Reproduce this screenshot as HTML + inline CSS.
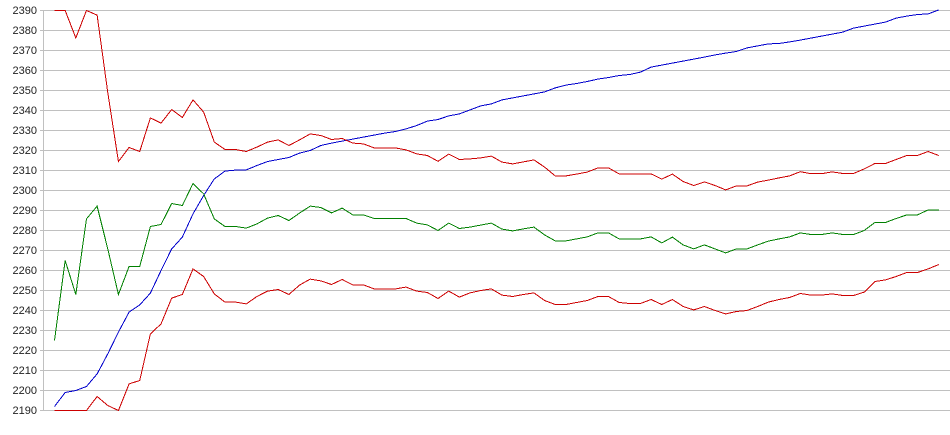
<!DOCTYPE html>
<html>
<head>
<meta charset="utf-8">
<style>
  html, body { margin: 0; padding: 0; background: #ffffff; }
  body { width: 950px; height: 435px; overflow: hidden; }
  svg { display: block; }
  text { font-family: "Liberation Sans", Arial, sans-serif; font-size: 11px; fill: #222; }
</style>
</head>
<body>
<svg width="950" height="435" viewBox="0 0 950 435" xmlns="http://www.w3.org/2000/svg">
  <rect x="0" y="0" width="950" height="435" fill="#ffffff"/>
  <g stroke="#c0c0c0" stroke-width="1" shape-rendering="crispEdges">
    <line x1="40" y1="10.5" x2="950" y2="10.5"/>
    <line x1="40" y1="30.5" x2="950" y2="30.5"/>
    <line x1="40" y1="50.5" x2="950" y2="50.5"/>
    <line x1="40" y1="70.5" x2="950" y2="70.5"/>
    <line x1="40" y1="90.5" x2="950" y2="90.5"/>
    <line x1="40" y1="110.5" x2="950" y2="110.5"/>
    <line x1="40" y1="130.5" x2="950" y2="130.5"/>
    <line x1="40" y1="150.5" x2="950" y2="150.5"/>
    <line x1="40" y1="170.5" x2="950" y2="170.5"/>
    <line x1="40" y1="190.5" x2="950" y2="190.5"/>
    <line x1="40" y1="210.5" x2="950" y2="210.5"/>
    <line x1="40" y1="230.5" x2="950" y2="230.5"/>
    <line x1="40" y1="250.5" x2="950" y2="250.5"/>
    <line x1="40" y1="270.5" x2="950" y2="270.5"/>
    <line x1="40" y1="290.5" x2="950" y2="290.5"/>
    <line x1="40" y1="310.5" x2="950" y2="310.5"/>
    <line x1="40" y1="330.5" x2="950" y2="330.5"/>
    <line x1="40" y1="350.5" x2="950" y2="350.5"/>
    <line x1="40" y1="370.5" x2="950" y2="370.5"/>
    <line x1="40" y1="390.5" x2="950" y2="390.5"/>
    <line x1="40" y1="410.5" x2="950" y2="410.5"/>
    <line x1="43.5" y1="10" x2="43.5" y2="411"/>
  </g>
  <g text-anchor="end">
    <text x="37" y="14">2390</text>
    <text x="37" y="34">2380</text>
    <text x="37" y="54">2370</text>
    <text x="37" y="74">2360</text>
    <text x="37" y="94">2350</text>
    <text x="37" y="114">2340</text>
    <text x="37" y="134">2330</text>
    <text x="37" y="154">2320</text>
    <text x="37" y="174">2310</text>
    <text x="37" y="194">2300</text>
    <text x="37" y="214">2290</text>
    <text x="37" y="234">2280</text>
    <text x="37" y="254">2270</text>
    <text x="37" y="274">2260</text>
    <text x="37" y="294">2250</text>
    <text x="37" y="314">2240</text>
    <text x="37" y="334">2230</text>
    <text x="37" y="354">2220</text>
    <text x="37" y="374">2210</text>
    <text x="37" y="394">2200</text>
    <text x="37" y="414">2190</text>
  </g>
  <g transform="matrix(10.654 0 0 -2 54.5 4790.5)" fill="none" stroke-width="1" shape-rendering="crispEdges">
    <polyline vector-effect="non-scaling-stroke" stroke="#0000cc" points="0,2192 1,2199 2,2200 3,2202 4,2208.3 5,2218.3 6,2229.2 7,2239.2 8,2242.8 9,2248.7 10,2260 11,2270.8 12,2276.7 13,2288.3 14,2297.5 15,2305.8 16,2309.7 17,2310.2 18,2310.3 19,2312.5 20,2314.5 21,2315.5 22,2316.5 23,2318.7 24,2320 25,2322.5 26,2323.7 27,2324.7 28,2325.7 29,2326.7 30,2327.7 31,2328.7 32,2329.5 33,2330.8 34,2332.5 35,2334.7 36,2335.5 37,2337.3 38,2338.3 39,2340.3 40,2342.3 41,2343.3 42,2345.3 43,2346.3 44,2347.3 45,2348.3 46,2349.3 47,2351.3 48,2352.7 49,2353.5 50,2354.5 51,2355.7 52,2356.5 53,2357.5 54,2358 55,2359.2 56,2361.7 57,2362.7 58,2363.7 59,2364.7 60,2365.7 61,2366.7 62,2367.8 63,2368.7 64,2369.5 65,2371.3 66,2372.3 67,2373.3 68,2373.5 69,2374.3 70,2375.2 71,2376.2 72,2377.2 73,2378.2 74,2379.2 75,2381.2 76,2382.2 77,2383.2 78,2384.2 79,2386.2 80,2387.2 81,2388 82,2388.3 83,2390.3"/>
    <polyline vector-effect="non-scaling-stroke" stroke="#008000" points="0,2225 1,2265 2,2248 3,2285.8 4,2292.2 5,2270.8 6,2248 7,2262 8,2262 9,2282 10,2283 11,2293.5 12,2292.5 13,2303.5 14,2298.3 15,2285.8 16,2282 17,2282 18,2281.2 19,2283.3 20,2286.2 21,2287.5 22,2285 23,2288.7 24,2292.2 25,2291.5 26,2288.8 27,2291.2 28,2287.8 29,2287.8 30,2286 31,2286 32,2286 33,2286 34,2283.7 35,2282.8 36,2280 37,2283.7 38,2281 39,2281.7 40,2282.7 41,2283.7 42,2280.7 43,2279.8 44,2280.8 45,2281.7 46,2277.8 47,2274.8 48,2274.8 49,2275.8 50,2276.8 51,2278.8 52,2278.8 53,2275.8 54,2275.8 55,2275.8 56,2276.8 57,2273.8 58,2276.7 59,2272.8 60,2270.8 61,2272.8 62,2270.8 63,2268.8 64,2270.8 65,2270.8 66,2272.8 67,2274.7 68,2275.8 69,2276.8 70,2278.8 71,2278 72,2278 73,2278.8 74,2278 75,2278 76,2280 77,2284 78,2284 79,2286 80,2287.8 81,2287.8 82,2290.3 83,2290.3"/>
    <polyline vector-effect="non-scaling-stroke" stroke="#cc0000" points="0,2390 1,2390 2,2376.3 3,2390 4,2387.7 5,2349 6,2314.5 7,2321.5 8,2319.5 9,2336.3 10,2333.7 11,2340.5 12,2336.5 13,2345.3 14,2339.2 15,2324.2 16,2320.5 17,2320.5 18,2319.5 19,2321.7 20,2324.2 21,2325.3 22,2322.5 23,2325.3 24,2328.3 25,2327.5 26,2325.5 27,2326 28,2323.7 29,2323.3 30,2321.3 31,2321.3 32,2321.3 33,2320.3 34,2318.3 35,2317.5 36,2314.6 37,2318.2 38,2315.5 39,2315.8 40,2316.3 41,2317.2 42,2314.2 43,2313.3 44,2314.3 45,2315.3 46,2311.7 47,2307.3 48,2307.3 49,2308.2 50,2309.2 51,2311.3 52,2311.3 53,2308.3 54,2308.3 55,2308.3 56,2308.3 57,2305.7 58,2308.2 59,2304.5 60,2302.5 61,2304.3 62,2302.5 63,2300.3 64,2302.3 65,2302.3 66,2304.2 67,2305.2 68,2306.3 69,2307.3 70,2309.4 71,2308.4 72,2308.4 73,2309.3 74,2308.5 75,2308.5 76,2310.8 77,2313.5 78,2313.5 79,2315.5 80,2317.5 81,2317.5 82,2319.5 83,2317.5"/>
    <polyline vector-effect="non-scaling-stroke" stroke="#cc0000" points="0,2190 1,2190 2,2190 3,2190 4,2197 5,2192.5 6,2190 7,2203.3 8,2205 9,2228.3 10,2233.3 11,2246.2 12,2248 13,2260.8 14,2257 15,2248.3 16,2244.2 17,2244.2 18,2243.3 19,2247 20,2249.7 21,2250.5 22,2248 23,2252.7 24,2255.7 25,2254.8 26,2253 27,2255.5 28,2252.8 29,2252.8 30,2250.8 31,2250.8 32,2250.8 33,2251.7 34,2249.7 35,2249 36,2246 37,2249.7 38,2246.7 39,2248.8 40,2250 41,2250.8 42,2247.7 43,2247 44,2248 45,2248.8 46,2245 47,2243 48,2243 49,2244 50,2245 51,2247 52,2247 53,2244 54,2243.5 55,2243.5 56,2245.5 57,2243 58,2245.5 59,2242 60,2240.3 61,2242 62,2240 63,2238.3 64,2239.5 65,2240 66,2242 67,2244.2 68,2245.5 69,2246.5 70,2248.5 71,2247.7 72,2247.7 73,2248.3 74,2247.5 75,2247.5 76,2249.2 77,2254.5 78,2255.3 79,2257 80,2259 81,2259 82,2260.8 83,2263"/>
  </g>
</svg>
</body>
</html>
